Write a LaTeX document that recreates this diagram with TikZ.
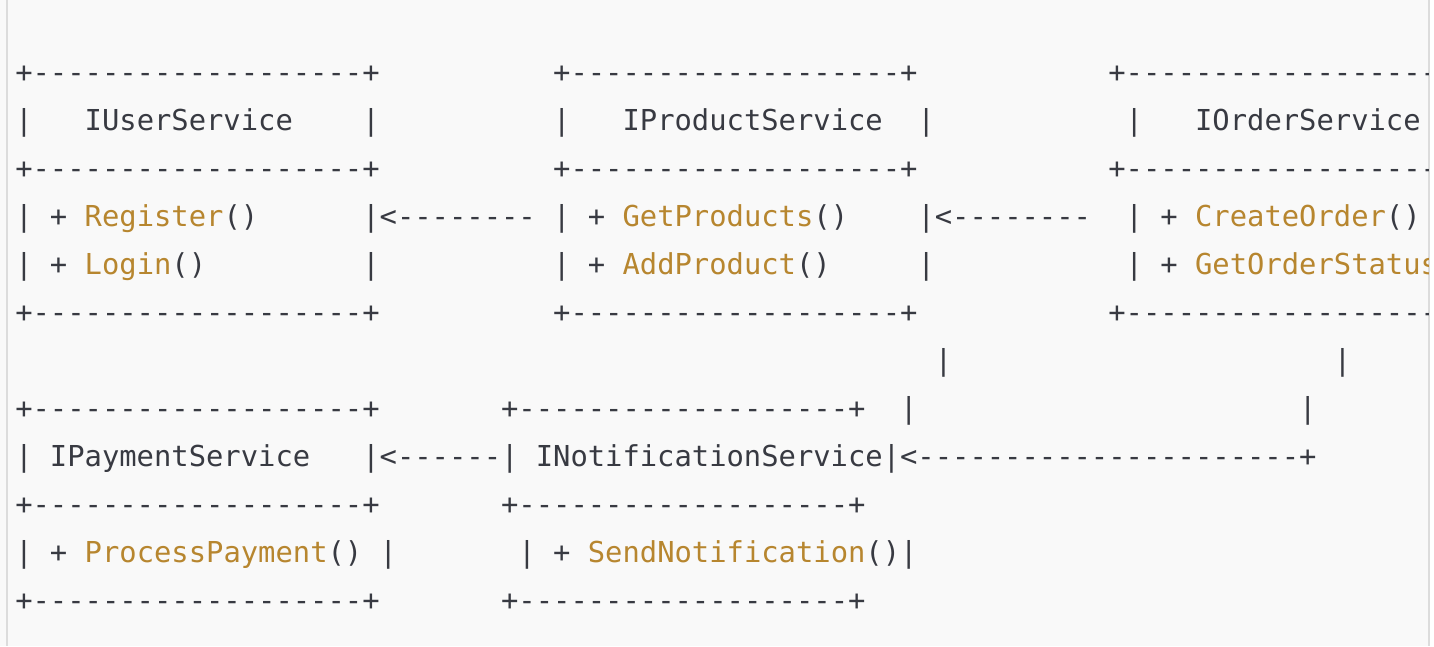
\documentclass[tikz,border=0pt]{standalone}
\usepackage{fontspec}
\setmonofont{DejaVu Sans Mono}
\definecolor{txt}{HTML}{383A42}
\definecolor{fncol}{HTML}{B7862F}
\definecolor{bg}{HTML}{F9F9F9}
\definecolor{edgecol}{HTML}{DCDCDC}
\newcommand{\fname}[1]{\textcolor{fncol}{#1}}
\newcommand{\seg}[4]{\node[ascii] (#1) at ({15.3+17.35*#3},{82.1+48*(#2-1)}) {#4};}
\begin{document}
\begin{tikzpicture}[x=1pt,y=-1pt,
  ascii/.style={anchor=base west, inner sep=0pt, outer sep=0pt, text=txt,
    font=\ttfamily\fontsize{28.82}{48}\selectfont}]
\useasboundingbox (0,0) rectangle (1434,646);
\fill[bg] (0,0) rectangle (1434,646);
\fill[white] (1429.5,0) rectangle (1434,646);
\draw[edgecol, line width=1.5pt] (7,0) -- (7,646);
\draw[edgecol, line width=1.5pt] (1429,0) -- (1429,646);
\begin{scope}
\clip (7.8,0) rectangle (1428.2,646);
% row 1
\seg{r1a}{1}{0}{+-------------------+}
\seg{r1b}{1}{31}{+-------------------+}
\seg{r1c}{1}{63}{+-------------------+}
% row 2
\seg{r2a}{2}{0}{|}
\seg{r2b}{2}{4}{IUserService}
\seg{r2c}{2}{20}{|}
\seg{r2d}{2}{31}{|}
\seg{r2e}{2}{35}{IProductService}
\seg{r2f}{2}{52}{|}
\seg{r2g}{2}{64}{|}
\seg{r2h}{2}{68}{IOrderService}
\seg{r2i}{2}{84}{|}
% row 3
\seg{r3a}{3}{0}{+-------------------+}
\seg{r3b}{3}{31}{+-------------------+}
\seg{r3c}{3}{63}{+-------------------+}
% row 4
\seg{r4a}{4}{0}{| + \fname{Register}()}
\seg{r4b}{4}{20}{|<--------}
\seg{r4c}{4}{31}{| + \fname{GetProducts}()}
\seg{r4d}{4}{52}{|<--------}
\seg{r4e}{4}{64}{| + \fname{CreateOrder}()}
% row 5
\seg{r5a}{5}{0}{| + \fname{Login}()}
\seg{r5b}{5}{20}{|}
\seg{r5c}{5}{31}{| + \fname{AddProduct}()}
\seg{r5d}{5}{52}{|}
\seg{r5e}{5}{64}{| + \fname{GetOrderStatus}()|}
% row 6
\seg{r6a}{6}{0}{+-------------------+}
\seg{r6b}{6}{31}{+-------------------+}
\seg{r6c}{6}{63}{+-------------------+}
% row 7
\seg{r7a}{7}{53}{|}
\seg{r7b}{7}{76}{|}
% row 8
\seg{r8a}{8}{0}{+-------------------+}
\seg{r8b}{8}{28}{+-------------------+}
\seg{r8c}{8}{51}{|}
\seg{r8d}{8}{74}{|}
% row 9
\seg{r9a}{9}{0}{| IPaymentService}
\seg{r9b}{9}{20}{|<------| INotificationService|<----------------------+}
% row 10
\seg{r10a}{10}{0}{+-------------------+}
\seg{r10b}{10}{28}{+-------------------+}
% row 11
\seg{r11a}{11}{0}{| + \fname{ProcessPayment}() |}
\seg{r11b}{11}{29}{| + \fname{SendNotification}()|}
% row 12
\seg{r12a}{12}{0}{+-------------------+}
\seg{r12b}{12}{28}{+-------------------+}
\end{scope}
\end{tikzpicture}
\end{document}
